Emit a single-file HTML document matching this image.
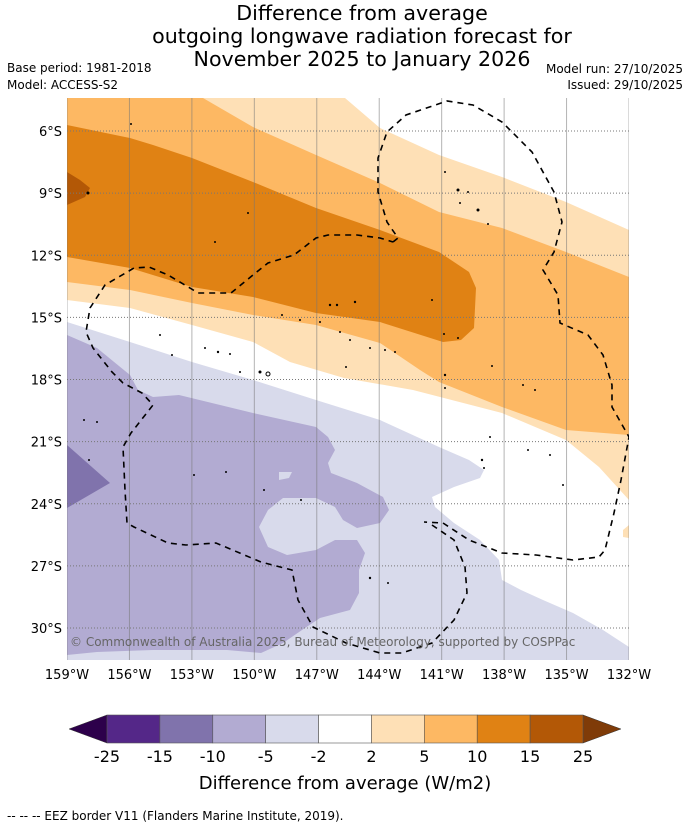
<!DOCTYPE html>
<html><head><meta charset="utf-8">
<style>
body{margin:0;background:#fff;font-family:"Liberation Sans","DejaVu Sans",sans-serif;}
#wrap{position:relative;width:690px;height:827px;overflow:hidden;}
svg text{font-family:"DejaVu Sans","Liberation Sans",sans-serif;}
</style></head>
<body>
<div id="wrap">
<svg id="svg" width="690" height="827" viewBox="0 0 690 827" xmlns="http://www.w3.org/2000/svg">
<g font-size="20.6" text-anchor="middle" fill="#000">
<text x="362" y="20">Difference from average</text>
<text x="362" y="43">outgoing longwave radiation forecast for</text>
<text x="362" y="66">November 2025 to January 2026</text>
</g>
<g font-size="12" fill="#000">
<text x="7" y="72">Base period: 1981-2018</text>
<text x="7" y="89">Model: ACCESS-S2</text>
<text x="683" y="73" text-anchor="end">Model run: 27/10/2025</text>
<text x="683" y="89" text-anchor="end">Issued: 29/10/2025</text>
</g>
<defs><clipPath id="mapclip"><rect x="67" y="98" width="562" height="562"/></clipPath></defs>
<g clip-path="url(#mapclip)">
<rect x="67" y="98" width="562" height="562" fill="#fff"/>
<polygon fill="#fee0b6" points="67,98 345,98 380,128 439,155 502,177 566,202 629,230 629,500 599,467 566,440 502,413 413,390 344,378 290,362 253,342 192,325 130,308 67,300"/>
<polygon fill="#fee0b6" points="629,525 623,530 623,537 629,538"/>
<polygon fill="#fdb863" points="67,98 203,98 253,127 316,155 380,183 439,212 502,228 566,252 629,277 629,435 566,430 502,407 439,382 420,370 380,343 316,325 253,315 192,303 130,290 67,282"/>
<polygon fill="#e08214" points="67,125 130,138 153,145 192,158 253,182 316,208 380,230 439,252 469,272 476,288 474,328 461,340 443,342 380,322 316,313 253,297 192,287 130,268 67,257"/>
<polygon fill="#b35806" points="67,172 80,180 90,188 85,197 67,205"/>
<polygon fill="#d8daeb" points="67,322 130,342 192,362 253,380 316,400 380,420 439,447 469,460 484,470 480,478 454,487 432,497 435,507 454,523 480,540 499,560 502,580 521,590 543,600 573,613 603,630 629,647 629,660 67,660"/>
<polygon fill="#b2abd2" points="67,335 97,348 130,375 138,390 153,397 179,395 253,413 316,427 328,437 335,450 328,463 331,473 357,483 383,497 389,510 380,523 357,528 343,520 335,507 316,498 283,498 268,510 259,527 268,547 287,555 316,550 335,540 357,540 365,553 359,570 359,593 350,610 320,618 302,630 283,643 261,653 227,650 153,650 97,652 67,655"/>
<polygon fill="#d8daeb" points="279,472 292,472 289,478 279,480"/>
<polygon fill="#8073ac" points="67,445 110,483 67,508"/>
<g id="grid"></g>
<g fill="none" stroke="#000" stroke-width="1.6" stroke-dasharray="6,5">
<polyline points="393,242 398,238 387,222 378,192 378,158 387,132 406,115 447,101 473,105 502,122 532,152 554,192 562,222 554,252 543,270 558,295 560,323 588,335 603,355 612,385 612,407 629,437 621,480 614,513 605,550 599,557 573,560 536,555 502,553 469,540 443,523 424,522"/>
<polyline points="432,525 454,540 465,567 467,593 454,620 432,643 402,653 380,653 346,643 313,627 298,600 292,570 261,562 216,543 186,545 168,543 134,527 127,523 125,490 123,447 131,433 153,405 142,393 123,383 112,372 93,348 86,332 90,308 105,285 134,268 149,267 168,275 190,288 198,293 231,293 253,275 268,263 294,255 316,238 328,235 357,235 380,238 393,242"/>
</g>
<g fill="#000">
<circle cx="88" cy="193" r="1.5"/><circle cx="131" cy="124" r="1"/><circle cx="248" cy="213" r="1"/>
<circle cx="215" cy="242" r="1"/><circle cx="330" cy="305" r="1.2"/><circle cx="337" cy="305" r="1.2"/>
<circle cx="355" cy="302" r="1.2"/><circle cx="282" cy="315" r="1"/><circle cx="300" cy="320" r="1"/>
<circle cx="320" cy="322" r="1"/><circle cx="340" cy="332" r="1"/><circle cx="350" cy="340" r="1"/>
<circle cx="370" cy="348" r="1"/><circle cx="385" cy="350" r="1"/><circle cx="395" cy="352" r="1"/>
<circle cx="205" cy="348" r="1"/><circle cx="218" cy="352" r="1.2"/><circle cx="230" cy="354" r="1"/>
<circle cx="260" cy="372" r="1.5"/><circle cx="268" cy="374" r="2" fill="none" stroke="#000"/>
<circle cx="160" cy="335" r="1"/><circle cx="172" cy="355" r="1"/><circle cx="240" cy="372" r="1"/>
<circle cx="346" cy="367" r="1"/><circle cx="445" cy="375" r="1.2"/><circle cx="445" cy="388" r="1"/>
<circle cx="492" cy="366" r="1"/><circle cx="523" cy="385" r="1"/><circle cx="535" cy="390" r="1"/>
<circle cx="432" cy="300" r="1"/><circle cx="444" cy="334" r="1"/><circle cx="458" cy="338" r="1"/>
<circle cx="445" cy="172" r="1"/><circle cx="458" cy="190" r="1.5"/><circle cx="468" cy="192" r="1"/>
<circle cx="478" cy="210" r="1.5"/><circle cx="488" cy="224" r="1"/><circle cx="460" cy="203" r="1"/>
<circle cx="482" cy="460" r="1.2"/><circle cx="484" cy="468" r="1"/><circle cx="528" cy="450" r="1"/>
<circle cx="563" cy="485" r="1"/><circle cx="550" cy="455" r="1"/><circle cx="490" cy="437" r="1"/>
<circle cx="84" cy="420" r="1"/><circle cx="97" cy="422" r="1"/><circle cx="89" cy="460" r="1"/>
<circle cx="194" cy="475" r="1"/><circle cx="226" cy="472" r="1"/><circle cx="264" cy="490" r="1"/>
<circle cx="370" cy="578" r="1.2"/><circle cx="388" cy="583" r="1"/><circle cx="301" cy="500" r="1"/>
</g>
<text x="70" y="646" font-size="12" fill="#666">© Commonwealth of Australia 2025, Bureau of Meteorology, supported by COSPPac</text>
</g>
<g id="latlabels" font-size="13" text-anchor="end"></g>
<g id="lonlabels" font-size="13" text-anchor="middle"></g>
<g id="cbar"></g>
<text x="345" y="789" font-size="18" text-anchor="middle">Difference from average (W/m2)</text>
<text x="7" y="820" font-size="12">--  --  -- EEZ border V11 (Flanders Marine Institute, 2019).</text>
</svg>
</div>
<script>
const lonTicks = [159,156,153,150,147,144,141,138,135,132];
const latTicks = [6,9,12,15,18,21,24,27,30];
const cbarLevels = [-25,-15,-10,-5,-2,2,5,10,15,25];
const cbarColors = ['#542788','#8073ac','#b2abd2','#d8daeb','#ffffff','#fee0b6','#fdb863','#e08214','#b35806'];
const cbarExtendColors = ['#2d004b','#7f3b08'];
const NS='http://www.w3.org/2000/svg';
function xOf(lon){return 67+(159-lon)*(562/27);}
function yOf(lat){return 131+(lat-6)*(497/24);}
function mk(tag,attrs,parent){const e=document.createElementNS(NS,tag);for(const k in attrs)e.setAttribute(k,attrs[k]);parent.appendChild(e);return e;}
const grid=document.getElementById('grid');
lonTicks.forEach(l=>{
  const ln=mk('line',{x1:xOf(l),x2:xOf(l),y1:98,y2:660,stroke:'#777','stroke-opacity':0.55,'stroke-width':1},grid);
  
  
  const t=mk('text',{x:xOf(l),y:679},document.getElementById('lonlabels'));
  t.textContent=l+'°W';
  
  
});
latTicks.forEach(l=>{
  const ln=mk('line',{x1:67,x2:629,y1:yOf(l),y2:yOf(l),stroke:'#777','stroke-width':1,'stroke-dasharray':'1,2'},grid);
  
  
  const t=mk('text',{x:62,y:yOf(l)+5},document.getElementById('latlabels'));
  t.textContent=l+'°S';
  
  
});
const cb=document.getElementById('cbar');
const cx0=107,cx1=583,cy0=715,cy1=743;
function cbX(i){return cx0+i*(cx1-cx0)/(cbarLevels.length-1);}
const lt=mk('polygon',{points:`${cbX(0)},${cy0} 69,${(cy0+cy1)/2} ${cbX(0)},${cy1}`,fill:cbarExtendColors[0],stroke:'#333','stroke-width':0.5},cb);


const rt=mk('polygon',{points:`${cbX(cbarLevels.length-1)},${cy0} 621,${(cy0+cy1)/2} ${cbX(cbarLevels.length-1)},${cy1}`,fill:cbarExtendColors[1],stroke:'#333','stroke-width':0.5},cb);


cbarColors.forEach((c,i)=>{
  const r=mk('rect',{x:cbX(i),y:cy0,width:cbX(i+1)-cbX(i),height:cy1-cy0,fill:c,stroke:'#555','stroke-width':0.6},cb);
  
  
});
cbarLevels.forEach((v,i)=>{
  const t=mk('text',{x:cbX(i),y:762,'font-size':16,'text-anchor':'middle'},cb);
  t.textContent=v;
  
  
});
</script>
</body></html>
